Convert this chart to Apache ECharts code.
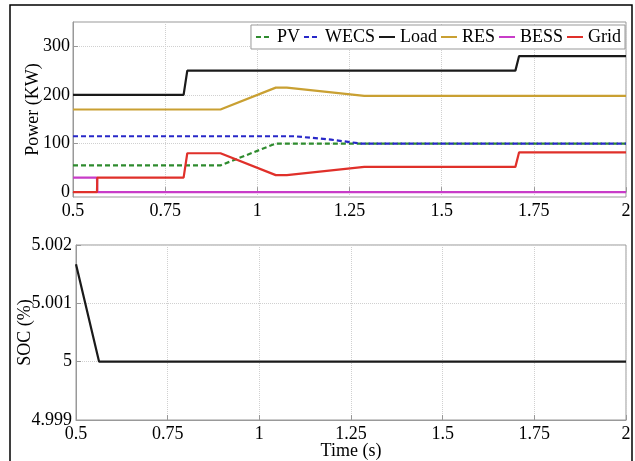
<!DOCTYPE html>
<html>
<head>
<meta charset="utf-8">
<script src="https://cdn.jsdelivr.net/npm/echarts@6/dist/echarts.min.js"></script>
<style>
html,body{margin:0;padding:0;background:#fff;}
#c{width:635px;height:461px;}
</style>
</head>
<body>
<div id="c"></div>
<script>
// ---- data ----
const xTicks = [0.5, 0.75, 1, 1.25, 1.5, 1.75, 2];
const powerTicks = [0, 100, 200, 300];
const socTicks = [4.999, 5, 5.001, 5.002];

const pvT = [0.5, 0.9, 1.05, 2];
const pvV = [55, 55, 100, 100];

const wecsT = [0.5, 1.1, 1.2, 1.28, 2];
const wecsV = [115, 115, 108, 100, 100];

const loadT = [0.5, 0.8, 0.81, 1.7, 1.71, 2];
const loadV = [200, 200, 250, 250, 280, 280];

const resT = [0.5, 0.9, 1.05, 1.08, 1.29, 2];
const resV = [170, 170, 215, 215, 198, 198];

const bessT = [0.5, 0.565, 0.566, 2];
const bessV = [30, 30, 0, 0];

const gridT = [0.5, 0.565, 0.566, 0.8, 0.81, 0.9, 1.05, 1.08, 1.29, 1.7, 1.71, 2];
const gridV = [0, 0, 30, 30, 80, 80, 35, 35, 52, 52, 82, 82];

const socT = [0.5, 0.563, 2];
const socV = [5.00167, 5, 5];

function zip(t, v) { return t.map((x, i) => [x, v[i]]); }

const FONT = '"Liberation Serif", "Times New Roman", serif';
const AX = '#999';

function xAxis(gi, name) {
  return {
    type: 'value', gridIndex: gi, min: 0.5, max: 2, interval: 0.25,
    name: name || '', nameLocation: 'middle', nameGap: 22, nameMoveOverlap: false,
    nameTextStyle: {fontFamily: FONT, fontSize: 18, color: '#000'},
    axisLine: {show: true, lineStyle: {color: AX}},
    axisTick: {show: true, inside: true, length: 5, lineStyle: {color: AX}},
    axisLabel: {color: '#000', fontFamily: FONT, fontSize: 18, margin: 5},
    splitLine: {show: true, lineStyle: {type: 'dotted', color: '#d0d0d0'}}
  };
}

function line(name, t, v, color, dashed, xi) {
  return {
    name: name, type: 'line', xAxisIndex: xi || 0, yAxisIndex: xi || 0,
    data: zip(t, v), symbol: 'none', showSymbol: false,
    lineStyle: {color: color, width: 2.2, type: dashed ? [5, 3] : 'solid'},
    itemStyle: {color: color},
    z: 3
  };
}

const chart = echarts.init(document.getElementById('c'), null, {renderer: 'canvas'});
chart.setOption({
  animation: false,
  backgroundColor: '#fff',
  grid: [
    {left: 73, right: 9, top: 22, height: 175, show: true, borderColor: AX, borderWidth: 1, backgroundColor: 'transparent'},
    {left: 76, right: 9, top: 245, height: 175, show: true, borderColor: AX, borderWidth: 1, backgroundColor: 'transparent'}
  ],
  xAxis: [xAxis(0), xAxis(1, 'Time (s)')],
  yAxis: [
    {
      type: 'value', gridIndex: 0, min: -10, max: 350,
      name: 'Power (KW)', nameLocation: 'middle', nameGap: 31, nameMoveOverlap: false,
      nameTextStyle: {fontFamily: FONT, fontSize: 18, color: '#000'},
      axisLine: {show: true, lineStyle: {color: AX}},
      axisTick: {show: true, inside: true, length: 5, lineStyle: {color: AX}, customValues: powerTicks},
      axisLabel: {color: '#000', fontFamily: FONT, fontSize: 18, margin: 3, customValues: powerTicks},
      splitLine: {show: true, lineStyle: {type: 'dotted', color: '#d0d0d0'}}
    },
    {
      type: 'value', gridIndex: 1, min: 4.999, max: 5.002, interval: 0.001,
      name: 'SOC (%)', nameLocation: 'middle', nameGap: 42, nameMoveOverlap: false,
      nameTextStyle: {fontFamily: FONT, fontSize: 18, color: '#000'},
      axisLine: {show: true, lineStyle: {color: AX}},
      axisTick: {show: true, inside: true, length: 5, lineStyle: {color: AX}},
      axisLabel: {color: '#000', fontFamily: FONT, fontSize: 18, margin: 4,
        formatter: v => String(parseFloat(v.toFixed(3)))},
      splitLine: {show: true, lineStyle: {type: 'dotted', color: '#d0d0d0'}}
    }
  ],
  legend: {
    data: ['PV', 'WECS', 'Load', 'RES', 'BESS', 'Grid'],
    right: 10, top: 25,
    orient: 'horizontal',
    itemWidth: 16, itemHeight: 14, itemGap: 3,
    padding: [3, 4],
    itemStyle: {opacity: 0},
    borderColor: AX, borderWidth: 1, backgroundColor: '#fff',
    textStyle: {fontFamily: FONT, fontSize: 18, color: '#000', lineHeight: 18}
  },
  series: [
    line('PV', pvT, pvV, '#2e8b2e', true),
    line('WECS', wecsT, wecsV, '#2828c8', true),
    line('Load', loadT, loadV, '#1a1a1a', false),
    line('RES', resT, resV, '#c9a032', false),
    line('BESS', bessT, bessV, '#c83cc8', false),
    line('Grid', gridT, gridV, '#e0302a', false),
    line('SOC', socT, socV, '#1a1a1a', false, 1)
  ],
  graphic: [{
    type: 'polyline', silent: true, z: 100,
    shape: {points: [[10, 461], [10, 5], [632, 5], [632, 461]]},
    style: {stroke: '#000', lineWidth: 1.5, fill: null}
  }]
});
</script>
</body>
</html>
